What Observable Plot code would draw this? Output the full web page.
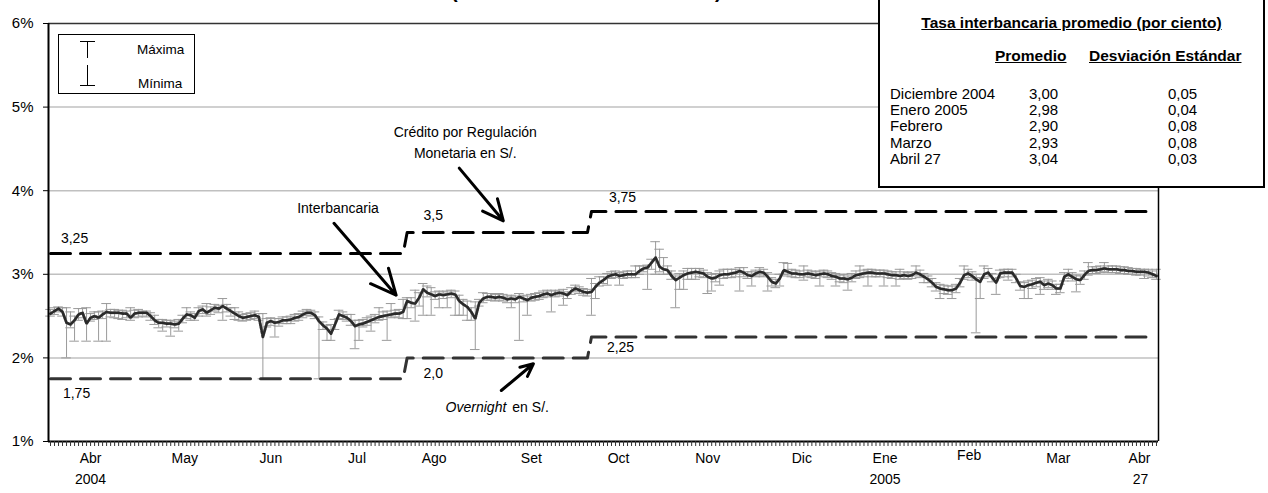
<!DOCTYPE html>
<html><head><meta charset="utf-8">
<script src="https://cdn.jsdelivr.net/npm/d3@7"></script>
<script src="https://cdn.jsdelivr.net/npm/@observablehq/plot@0.6"></script>
<style>
body{margin:0;background:#fff;font-family:"Liberation Sans",Arial,sans-serif;}
#wrap{position:relative;width:1268px;height:493px;overflow:hidden;background:#fff;}
#wrap svg{display:block;}
#overlay{position:absolute;left:0;top:0;}
#tbl{position:absolute;left:878px;top:-2px;width:383px;height:186px;border:2px solid #000;background:#fff;font-size:15px;color:#000;}
#tbl div{position:absolute;white-space:nowrap;}
#tbl .h{font-weight:bold;text-decoration:underline;}
#tbl .col{line-height:16.2px;}
</style></head><body>
<div id="wrap"></div>
<script>
// Daily interbank rate (business days, mid-Mar 2004 .. 27 Apr 2005), percent
const meanRate = [
2.53,2.56,2.59,2.55,2.42,2.40,2.45,2.52,2.54,2.41,
2.48,2.50,2.48,2.52,2.55,2.54,2.54,2.54,2.53,2.53,
2.48,2.53,2.54,2.54,2.54,2.50,2.45,2.42,2.42,2.41,
2.41,2.40,2.41,2.47,2.52,2.51,2.48,2.56,2.58,2.54,
2.57,2.60,2.59,2.62,2.59,2.56,2.53,2.50,2.48,2.49,
2.50,2.51,2.49,2.25,2.42,2.44,2.42,2.43,2.45,2.45,
2.46,2.48,2.49,2.52,2.54,2.54,2.51,2.44,2.39,2.35,
2.29,2.40,2.52,2.50,2.48,2.44,2.38,2.40,2.41,2.43,
2.45,2.47,2.49,2.50,2.51,2.52,2.53,2.53,2.55,2.68,
2.66,2.65,2.72,2.82,2.78,2.76,2.74,2.76,2.75,2.76,
2.77,2.76,2.68,2.64,2.61,2.55,2.47,2.66,2.71,2.73,
2.73,2.72,2.73,2.72,2.70,2.71,2.70,2.73,2.71,2.69,
2.72,2.73,2.74,2.76,2.77,2.75,2.77,2.78,2.77,2.75,
2.80,2.83,2.81,2.79,2.78,2.79,2.85,2.90,2.93,2.97,
2.99,3.00,2.98,2.99,3.00,3.00,3.00,3.04,3.07,3.08,
3.14,3.20,3.09,3.06,3.05,2.98,2.93,2.96,2.99,3.01,
3.02,3.03,3.02,3.01,2.97,2.95,2.96,2.99,3.00,3.00,
3.01,3.02,3.04,3.02,2.99,2.98,3.01,3.03,3.02,2.97,
2.91,2.89,2.95,3.05,3.03,3.01,3.01,3.00,3.00,3.01,
3.00,2.99,3.00,3.01,3.00,2.98,2.97,2.95,2.95,2.94,
2.96,2.99,3.00,3.01,3.02,3.02,3.01,3.01,3.01,3.00,
2.99,2.99,2.98,2.99,2.98,2.99,3.02,3.00,2.97,2.94,
2.90,2.85,2.83,2.82,2.81,2.81,2.83,2.90,2.99,3.01,
2.98,2.94,2.91,3.00,3.02,2.96,2.90,3.01,3.02,3.02,
3.02,2.95,2.86,2.85,2.87,2.88,2.90,2.91,2.87,2.89,
2.87,2.83,2.83,2.97,3.00,2.97,2.94,2.93,2.99,3.04,
3.05,3.05,3.06,3.07,3.06,3.06,3.06,3.05,3.05,3.04,
3.04,3.03,3.03,3.03,3.02,3.00,2.98];
const maxRate = [
2.58,2.60,2.61,2.60,2.60,2.55,2.50,2.59,2.59,2.60,
2.53,2.55,2.55,2.56,2.65,2.58,2.58,2.57,2.57,2.56,
2.60,2.57,2.58,2.56,2.56,2.54,2.51,2.46,2.46,2.45,
2.45,2.44,2.46,2.51,2.60,2.55,2.53,2.60,2.62,2.65,
2.61,2.64,2.63,2.71,2.64,2.60,2.60,2.55,2.52,2.53,
2.54,2.56,2.53,2.53,2.47,2.48,2.47,2.47,2.49,2.49,
2.50,2.52,2.53,2.56,2.58,2.57,2.55,2.49,2.43,2.39,
2.40,2.46,2.57,2.55,2.52,2.52,2.45,2.45,2.46,2.48,
2.50,2.52,2.60,2.55,2.56,2.65,2.57,2.58,2.70,2.72,
2.72,2.81,2.78,2.89,2.86,2.84,2.79,2.80,2.79,2.80,
2.81,2.80,2.75,2.70,2.68,2.60,2.67,2.70,2.78,2.77,
2.77,2.76,2.77,2.76,2.74,2.75,2.74,2.77,2.75,2.74,
2.76,2.77,2.78,2.80,2.81,2.80,2.81,2.80,2.82,2.79,
2.84,2.87,2.85,2.83,2.82,2.95,2.89,2.97,2.97,3.01,
3.03,3.04,3.02,3.03,3.04,3.04,3.10,3.10,3.10,3.11,
3.18,3.39,3.30,3.20,3.10,3.04,2.98,3.01,3.04,3.07,
3.07,3.07,3.07,3.05,3.02,3.00,3.01,3.04,3.06,3.06,
3.06,3.06,3.08,3.08,3.03,3.03,3.05,3.08,3.06,3.02,
2.96,2.94,3.00,3.14,3.13,3.06,3.05,3.04,3.10,3.05,
3.04,3.03,3.04,3.05,3.04,3.02,3.01,2.99,3.00,2.98,
3.01,3.04,3.10,3.05,3.06,3.06,3.05,3.05,3.05,3.04,
3.03,3.03,3.06,3.03,3.02,3.03,3.10,3.05,3.01,2.98,
2.95,2.90,2.88,2.87,2.86,2.86,2.88,2.95,3.10,3.06,
3.03,3.00,2.96,3.10,3.07,3.01,2.95,3.05,3.06,3.06,
3.06,3.00,2.91,2.90,2.92,2.93,2.95,2.96,2.92,2.94,
2.92,2.88,2.88,3.02,3.06,3.02,2.99,2.98,3.04,3.14,
3.09,3.09,3.10,3.14,3.10,3.10,3.10,3.09,3.09,3.08,
3.07,3.07,3.06,3.06,3.06,3.04,3.06];
const minRate = [
2.50,2.52,2.55,2.50,2.00,2.36,2.20,2.45,2.48,2.20,
2.44,2.46,2.20,2.47,2.20,2.49,2.48,2.47,2.46,2.48,
2.45,2.48,2.49,2.50,2.49,2.45,2.40,2.36,2.32,2.37,
2.26,2.36,2.32,2.42,2.47,2.45,2.45,2.50,2.53,2.50,
2.52,2.56,2.54,2.45,2.55,2.50,2.46,2.45,2.44,2.45,
2.46,2.47,2.45,1.75,2.37,2.39,2.25,2.38,2.41,2.41,
2.41,2.44,2.45,2.48,2.51,2.50,2.47,1.75,2.34,2.21,
2.21,2.34,2.47,2.46,2.44,2.39,2.11,2.21,2.37,2.39,
2.32,2.42,2.45,2.46,2.21,2.48,2.49,2.48,2.47,2.47,
2.60,2.44,2.62,2.51,2.73,2.51,2.70,2.60,2.71,2.60,
2.72,2.51,2.51,2.51,2.45,2.45,2.10,2.62,2.66,2.69,
2.69,2.68,2.69,2.68,2.66,2.60,2.66,2.21,2.67,2.51,
2.68,2.69,2.70,2.72,2.73,2.55,2.73,2.74,2.63,2.71,
2.76,2.79,2.77,2.75,2.74,2.51,2.71,2.86,2.89,2.87,
2.95,2.96,2.87,2.95,2.96,2.96,2.96,3.00,3.03,2.82,
3.06,3.00,3.03,3.00,3.00,2.94,2.60,2.82,2.82,2.94,
2.94,2.94,2.97,2.96,2.77,2.80,2.91,2.87,2.95,2.96,
2.96,2.97,2.80,2.97,2.95,2.86,2.97,2.98,2.97,2.80,
2.86,2.84,2.86,3.00,2.98,2.97,2.96,2.96,2.93,2.97,
2.96,2.95,2.86,2.97,2.96,2.94,2.86,2.91,2.90,2.81,
2.91,2.95,2.96,2.97,2.86,2.97,2.97,2.97,2.86,2.96,
2.95,2.86,2.94,2.95,2.94,2.95,2.98,2.96,2.90,2.90,
2.85,2.80,2.71,2.77,2.76,2.71,2.78,2.85,2.94,2.96,
2.93,2.30,2.71,2.95,2.97,2.91,2.76,2.96,2.97,2.93,
2.97,2.90,2.81,2.71,2.71,2.83,2.85,2.76,2.82,2.84,
2.82,2.76,2.78,2.92,2.95,2.92,2.79,2.88,2.94,2.99,
3.01,3.01,3.02,3.03,3.02,3.02,3.02,3.01,3.01,3.00,
3.00,2.99,2.99,2.95,2.98,2.96,2.94];

// BCRP corridor (business-day index of change points)
const policyIdx     = [0, 88, 89, 134, 135, 274];
const creditRate    = [3.25, 3.25, 3.5, 3.5, 3.75, 3.75];
const overnightRate = [1.75, 1.75, 2.0, 2.0, 2.25, 2.25];
const creditLabels    = ["3,25", "3,5", "3,75"];
const overnightLabels = ["1,75", "2,0", "2,25"];

// x-axis labels (category index of each label)
const monthLabels    = ["Abr","May","Jun","Jul","Ago","Set","Oct","Nov","Dic","Ene","Feb","Mar","Abr"];
const monthTickIndex = [10, 33.5, 55, 76.5, 95.75, 120, 141.75, 164, 187.5, 208.25, 229.25, 251.5, 271.75];
const yearLabels     = ["2004", "2005", "27"];
const yearTickIndex  = [10, 208.25, 272];
const yTicks = [1, 2, 3, 4, 5, 6];

// Summary table
const tableTitle  = "Tasa interbancaria promedio (por ciento)";
const tableHeads  = ["Promedio", "Desviación Estándar"];
const tableMonths = ["Diciembre 2004", "Enero 2005", "Febrero", "Marzo", "Abril 27"];
const tableMean   = ["3,00", "2,98", "2,90", "2,93", "3,04"];
const tableSD     = ["0,05", "0,04", "0,08", "0,08", "0,03"];

const N = meanRate.length;
const rows = meanRate.map((v, i) => ({i, mean: v, max: maxRate[i], min: minRate[i]}));
const policy = policyIdx.map((i, k) => ({i, credit: creditRate[k], overnight: overnightRate[k]}));
const months = monthLabels.map((t, k) => ({t, i: monthTickIndex[k]}));
const years = yearLabels.map((t, k) => ({t, i: yearTickIndex[k]}));
const capHalf = 1.2;
const FONT = '"Liberation Sans", Arial, sans-serif';

const chart = Plot.plot({
  width: 1268, height: 493,
  marginLeft: 48, marginRight: 110, marginTop: 23, marginBottom: 52,
  style: {fontFamily: FONT, fontSize: "14px", color: "#000", background: "#fff", overflow: "visible"},
  x: {domain: [-0.5, N - 0.5]},
  y: {domain: [1, 6]},
  marks: [
    Plot.ruleY([2, 3, 4, 5], {stroke: "#c0c0c0", strokeWidth: 1.5}),
    // error bars
    Plot.ruleX(rows, {x: "i", y1: "min", y2: "max", stroke: "#9a9a9a", strokeWidth: 1}),
    Plot.ruleY(rows, {y: "max", x1: d => d.i - capHalf, x2: d => d.i + capHalf, stroke: "#9a9a9a", strokeWidth: 1}),
    Plot.ruleY(rows, {y: "min", x1: d => d.i - capHalf, x2: d => d.i + capHalf, stroke: "#9a9a9a", strokeWidth: 1}),
    // mean line
    Plot.line(rows, {x: "i", y: "mean", stroke: "#9a9a9a", strokeWidth: 2.8}),
    Plot.line(rows, {x: "i", y: "mean", stroke: "#2a2a2a", strokeWidth: 2.6, strokeDasharray: "2.5,1.5"}),
    // corridor
    Plot.line(policy, {x: "i", y: "credit", stroke: "#000", strokeWidth: 3, strokeDasharray: "20,10"}),
    Plot.line(policy, {x: "i", y: "overnight", stroke: "#333", strokeWidth: 3, strokeDasharray: "20,10"}),
    // frame
    Plot.ruleY([6], {stroke: "#333", strokeWidth: 1.5}),
    Plot.ruleX([N - 0.5], {stroke: "#000", strokeWidth: 1.5}),
    Plot.ruleY([1], {stroke: "#000", strokeWidth: 2}),
    Plot.ruleX([-0.5], {stroke: "#000", strokeWidth: 2}),
    // axes
    Plot.axisY({ticks: yTicks, tickFormat: d => d + "%", tickSize: 5, tickPadding: 10, fontSize: 15, stroke: "#000"}),
    Plot.axisX({ticks: d3.range(N), tickSize: 5, tickFormat: () => "", stroke: "#333", strokeWidth: 1}),
    Plot.text(months.filter(d => d.t !== "Feb"), {x: "i", text: "t", frameAnchor: "bottom", dy: 21, fontSize: 14}),
    Plot.text(months.filter(d => d.t === "Feb"), {x: "i", text: "t", frameAnchor: "bottom", dy: 18, fontSize: 14}),
    Plot.text(years, {x: "i", text: "t", frameAnchor: "bottom", dy: 42, fontSize: 14}),
    // corridor value labels
    Plot.text([{i: 6, v: 3.43, t: creditLabels[0]}, {i: 95.5, v: 3.70, t: creditLabels[1]}, {i: 142.75, v: 3.92, t: creditLabels[2]}],
      {x: "i", y: "v", text: "t", fontSize: 14}),
    Plot.text([{i: 6.5, v: 1.57, t: overnightLabels[0]}, {i: 95.5, v: 1.81, t: overnightLabels[1]}, {i: 142.25, v: 2.12, t: overnightLabels[2]}],
      {x: "i", y: "v", text: "t", fontSize: 14}),
    // annotations
    Plot.text(["Crédito por Regulación\nMonetaria en S/."], {x: 103.5, y: 4.60, text: d => d, fontSize: 14, lineHeight: 1.55}),
    Plot.text(["Interbancaria"], {x: 71.75, y: 3.79, text: d => d, fontSize: 14}),
    Plot.text(["Overnight"], {x: 113.75, y: 1.41, text: d => d, fontSize: 14, fontStyle: "italic", textAnchor: "end"}),
    Plot.text(["en S/."], {x: 115.25, y: 1.41, text: d => d, fontSize: 14, textAnchor: "start"}),
    Plot.arrow([{x1: 102, y1: 4.27, x2: 113, y2: 3.64}, {x1: 70.75, y1: 3.61, x2: 86.25, y2: 2.75}, {x1: 112.5, y1: 1.61, x2: 120.5, y2: 1.93}],
      {x1: "x1", y1: "y1", x2: "x2", y2: "y2", stroke: "#000", strokeWidth: 3, headLength: 14, headAngle: 50})
  ]
});
const wrap = document.getElementById("wrap");
wrap.appendChild(chart);

// Legend overlay + partially visible title parentheses (title is cut off at the top in the original)
const ov = d3.select(wrap).append("svg").attr("id", "overlay").attr("width", 1268).attr("height", 493)
  .style("font-family", FONT);
ov.append("text").attr("x", 451).attr("y", -2).attr("font-size", 20).attr("font-weight", "bold").text("(");
ov.append("text").attr("x", 715).attr("y", -2).attr("font-size", 20).attr("font-weight", "bold").text(")");
const lg = ov.append("g");
lg.append("rect").attr("x", 58.5).attr("y", 34.5).attr("width", 136).attr("height", 59).attr("fill", "#fff").attr("stroke", "#000");
lg.append("line").attr("x1", 80).attr("x2", 95).attr("y1", 41.5).attr("y2", 41.5).attr("stroke", "#000");
lg.append("line").attr("x1", 87.5).attr("x2", 87.5).attr("y1", 41.5).attr("y2", 58).attr("stroke", "#000");
lg.append("line").attr("x1", 87.5).attr("x2", 87.5).attr("y1", 65).attr("y2", 85.5).attr("stroke", "#000");
lg.append("line").attr("x1", 80).attr("x2", 95).attr("y1", 85.5).attr("y2", 85.5).attr("stroke", "#000");
lg.append("text").attr("x", 137).attr("y", 54).attr("font-size", 13.5).text("Máxima");
lg.append("text").attr("x", 138).attr("y", 88).attr("font-size", 13.5).text("Mínima");

// Table box
const tbl = d3.select(wrap).append("div").attr("id", "tbl");
tbl.append("div").attr("class", "h").style("left", "0px").style("width", "383px").style("text-align", "center")
  .style("top", "14px").style("font-size", "15.5px").text(tableTitle);
tbl.append("div").attr("class", "h").style("left", "115px").style("top", "47px").style("font-size", "15.5px").text(tableHeads[0]);
tbl.append("div").attr("class", "h").style("left", "209px").style("top", "47px").style("font-size", "15.5px").text(tableHeads[1]);
const c1 = tbl.append("div").attr("class", "col").style("left", "10px").style("top", "86px");
const c2 = tbl.append("div").attr("class", "col").style("left", "149px").style("top", "86px");
const c3 = tbl.append("div").attr("class", "col").style("left", "288px").style("top", "86px");
tableMonths.forEach(t => c1.append("div").style("position", "static").text(t));
tableMean.forEach(t => c2.append("div").style("position", "static").text(t));
tableSD.forEach(t => c3.append("div").style("position", "static").text(t));
</script>
</body></html>
